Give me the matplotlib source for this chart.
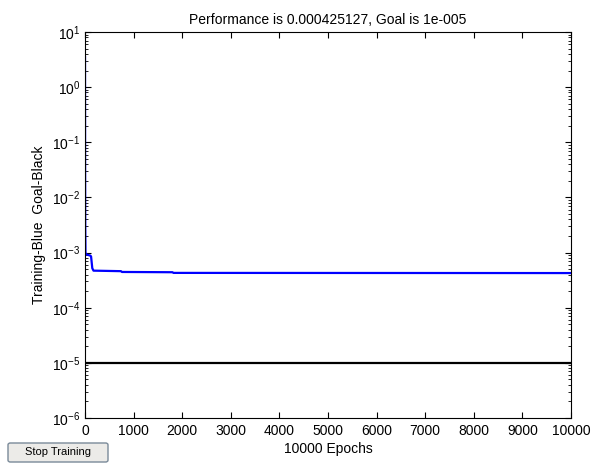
import matplotlib
matplotlib.use("Agg")
import matplotlib.pyplot as plt
from matplotlib.patches import FancyBboxPatch

plt.rcParams['font.family'] = ['Liberation Sans', 'DejaVu Sans']

# training performance (blue)
epochs = [0, 2, 5, 10, 20, 110, 125, 150, 175, 740, 760, 1800, 1820, 10000]
perf = [3.5, 0.05, 0.003, 1.0e-3, 9.3e-4, 8.8e-4, 8.5e-4, 5.2e-4, 4.7e-4, 4.6e-4, 4.45e-4, 4.4e-4, 4.28e-4, 4.25e-4]
goal = 1e-5
n_epochs = 10000
xticks = list(range(0, 10001, 1000))

fig = plt.figure(figsize=(5.92, 4.66), dpi=100)
ax = fig.add_axes([85 / 592, 1 - 418 / 466, 486 / 592, 386 / 466])

ax.semilogy(epochs, perf, color='#0000ff', lw=1.6)
ax.plot([0, n_epochs], [goal, goal], color='black', lw=1.6)

ax.set_xlim(0, n_epochs)
ax.set_ylim(1e-6, 1e1)
ax.set_xticks(xticks)
ax.tick_params(which='both', direction='in', top=True, right=True, labelsize=10)
ax.tick_params(which='major', length=4)
ax.tick_params(which='minor', length=2)
ax.tick_params(axis='x', pad=4)
for s in ax.spines.values():
    s.set_linewidth(0.8)

ax.set_title('Performance is 0.000425127, Goal is 1e-005', fontsize=10, pad=6)
ax.set_xlabel('10000 Epochs', fontsize=10, labelpad=3)
ax.set_ylabel('Training-Blue  Goal-Black', fontsize=10, labelpad=4)

# "Stop Training" button
btn = FancyBboxPatch((8 / 592, 1 - 462 / 466), 100 / 592, 19 / 466,
                     boxstyle='round,pad=0,rounding_size=0.004',
                     transform=fig.transFigure, facecolor='#ecebe8',
                     edgecolor='#7a8a99', lw=1)
fig.patches.append(btn)
fig.text(58 / 592, 1 - 452 / 466, 'Stop Training', fontsize=8,
         ha='center', va='center')

fig.savefig('out.png', dpi=100)
